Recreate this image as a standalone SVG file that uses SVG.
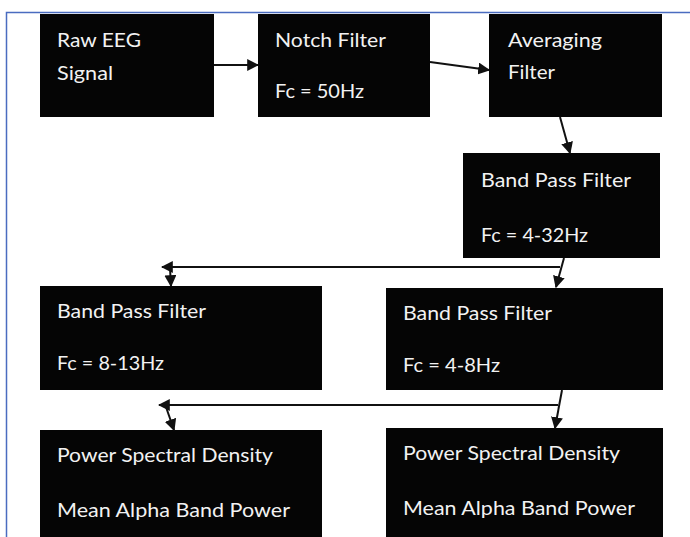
<svg xmlns="http://www.w3.org/2000/svg" width="690" height="537" viewBox="0 0 690 537">
<defs>
<style>
.box{fill:#050505}
.t{fill:#f2f2f2;font-family:Lato,"Open Sans","Liberation Sans",sans-serif;font-size:20px}
.c{stroke:#111;stroke-width:2;fill:none}
.a{marker-end:url(#ah)}
</style>
<marker id="ah" viewBox="0 0 10 10" refX="9" refY="5" markerWidth="6" markerHeight="6" orient="auto" markerUnits="strokeWidth">
<path d="M0,0 L10,5 L0,10 z" fill="#111"/>
</marker>
</defs>
<rect width="690" height="537" fill="#fff"/>
<path d="M6.5,537 V12.5 H690" stroke="#4a6cc0" stroke-width="1.5" fill="none"/>
<g id="n1"><rect class="box" x="40" y="14" width="174" height="103"/>
<text class="t" x="57" y="47" textLength="84" lengthAdjust="spacingAndGlyphs">Raw EEG</text>
<text class="t" x="57" y="80" textLength="56" lengthAdjust="spacingAndGlyphs">Signal</text></g>
<g id="n2"><rect class="box" x="258" y="14" width="172" height="103"/>
<text class="t" x="275" y="47" textLength="111" lengthAdjust="spacingAndGlyphs">Notch Filter</text>
<text class="t" x="275" y="98" textLength="89" lengthAdjust="spacingAndGlyphs">Fc = 50Hz</text></g>
<g id="n3"><rect class="box" x="489" y="14" width="173" height="103"/>
<text class="t" x="508" y="47" textLength="94" lengthAdjust="spacingAndGlyphs">Averaging</text>
<text class="t" x="508" y="79" textLength="47" lengthAdjust="spacingAndGlyphs">Filter</text></g>
<g id="n4"><rect class="box" x="463" y="153" width="197" height="105"/>
<text class="t" x="481" y="187" textLength="150" lengthAdjust="spacingAndGlyphs">Band Pass Filter</text>
<text class="t" x="481" y="242" textLength="107" lengthAdjust="spacingAndGlyphs">Fc = 4-32Hz</text></g>
<g id="n5"><rect class="box" x="40" y="286" width="282" height="104"/>
<text class="t" x="57" y="318" textLength="149" lengthAdjust="spacingAndGlyphs">Band Pass Filter</text>
<text class="t" x="57" y="370" textLength="107" lengthAdjust="spacingAndGlyphs">Fc = 8-13Hz</text></g>
<g id="n6"><rect class="box" x="386" y="288" width="277" height="102"/>
<text class="t" x="403" y="320" textLength="149" lengthAdjust="spacingAndGlyphs">Band Pass Filter</text>
<text class="t" x="403" y="372" textLength="97" lengthAdjust="spacingAndGlyphs">Fc = 4-8Hz</text></g>
<g id="n7"><rect class="box" x="40" y="430" width="282" height="107"/>
<text class="t" x="57" y="462" textLength="216" lengthAdjust="spacingAndGlyphs">Power Spectral Density</text>
<text class="t" x="57" y="517" textLength="233" lengthAdjust="spacingAndGlyphs">Mean Alpha Band Power</text></g>
<g id="n8"><rect class="box" x="386" y="428" width="277" height="109"/>
<text class="t" x="403" y="460" textLength="217" lengthAdjust="spacingAndGlyphs">Power Spectral Density</text>
<text class="t" x="403" y="515" textLength="232" lengthAdjust="spacingAndGlyphs">Mean Alpha Band Power</text></g>
<g id="connectors">
<line class="c a" x1="214" y1="65" x2="258" y2="65"/>
<line class="c a" x1="430" y1="62" x2="489" y2="70"/>
<line class="c a" x1="560" y1="117" x2="570" y2="153"/>
<line class="c a" x1="564" y1="258" x2="556" y2="287"/>
<line class="c a" x1="560" y1="267" x2="162" y2="267"/>
<line class="c a" x1="170" y1="268" x2="171" y2="286"/>
<line class="c a" x1="562" y1="390" x2="555" y2="428"/>
<line class="c a" x1="558" y1="405" x2="159" y2="405"/>
<line class="c a" x1="166" y1="407" x2="174" y2="430"/>
</g>
</svg>
